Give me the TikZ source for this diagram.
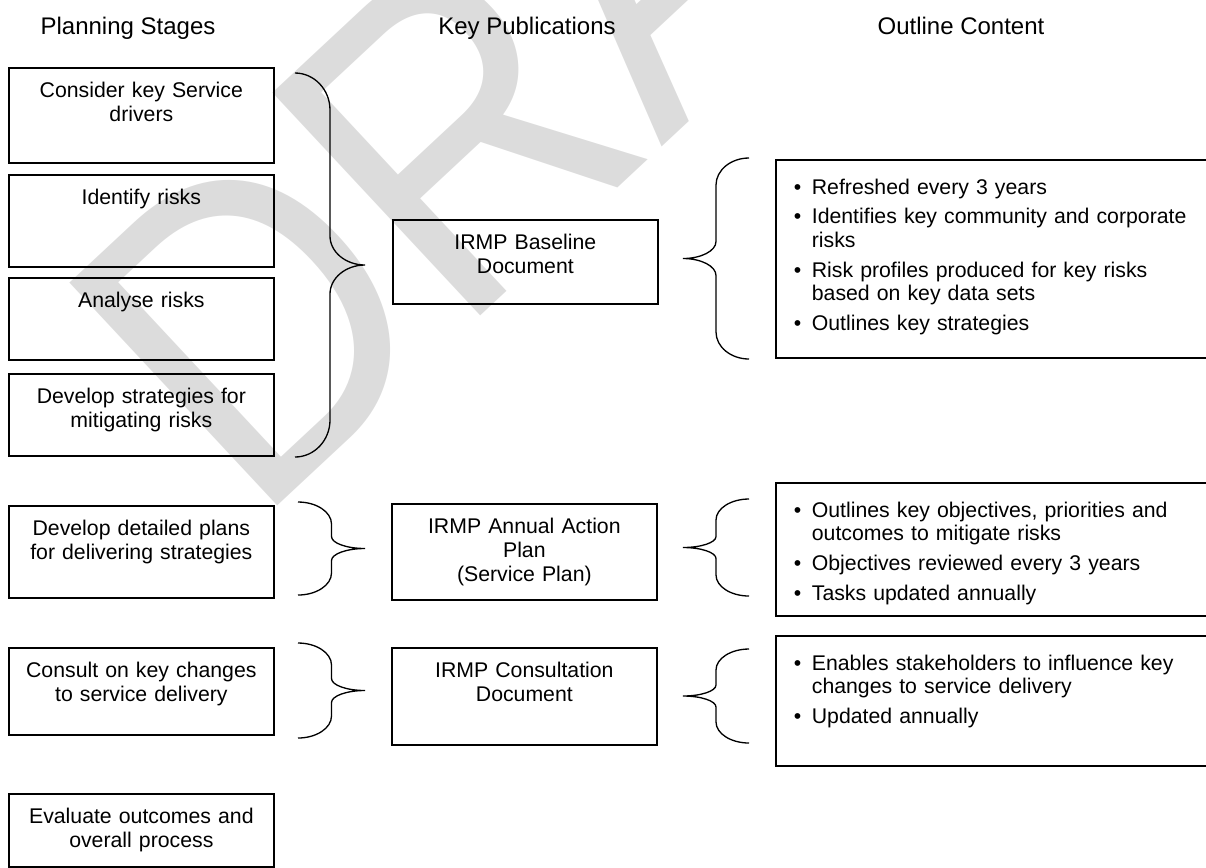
\documentclass[tikz,border=0pt]{standalone}
\usepackage{fontspec}
\setmainfont{Liberation Sans}
\usepackage{tikz}
\usetikzlibrary{positioning}
\definecolor{wmGray}{HTML}{DCDCDC}

\newlength{\bulind}\setlength{\bulind}{10.24pt}
\newcommand{\itm}[1]{\hangindent=\bulind\hangafter=1\noindent\makebox[\bulind][l]{\textbullet}#1\par}
% curly brace: x of ends, top y, bottom y, amplitude (signed), end curve, mid curve
\newcommand{\curlyb}[6]{%
  \pgfmathsetmacro{\hw}{#4/2}%
  \pgfmathsetmacro{\ym}{(#2+#3)/2}%
  \draw[bracel] (#1,#2) .. controls (#1+0.55*\hw,#2) and (#1+\hw,#2+0.45*#5) .. (#1+\hw,#2+#5)
    -- (#1+\hw,\ym-#6) .. controls (#1+\hw,\ym-0.45*#6) and (#1+#4-0.55*\hw,\ym) .. (#1+#4,\ym)
    .. controls (#1+#4-0.55*\hw,\ym) and (#1+\hw,\ym+0.45*#6) .. (#1+\hw,\ym+#6)
    -- (#1+\hw,#3-#5) .. controls (#1+\hw,#3-0.45*#5) and (#1+0.55*\hw,#3) .. (#1,#3);}

\begin{document}
\begin{tikzpicture}[x=0.02cm,y=-0.02cm,
  font=\fontsize{12.1pt}{13.5pt}\selectfont,
  head/.style={font=\fontsize{13.66pt}{15pt}\selectfont,anchor=base,inner sep=0pt},
  stage/.style={draw,line width=1pt,anchor=north west,text width=142.8pt,inner xsep=4pt,
    inner ysep=0pt,align=center,text height=17.1pt,text depth=#1},
  outl/.style={draw,line width=1pt,anchor=north west,text width=225.9pt,inner xsep=10.24pt,
    inner ysep=0pt,align=left,text height=19.5pt,text depth=#1},
  bracel/.style={line width=0.75pt},
  wmark/.style={font=\fontsize{219.6pt}{220pt}\selectfont,text=wmGray,transform shape,
    rotate=43,yscale=1.148,anchor=base west,inner sep=0pt}]
\useasboundingbox (0,0) rectangle (1206,867);
% watermark
\node[wmark] (draft) at (254,528) {DRAFT};
% --- column heads ---
\node[head] (hplan) at (128,34) {Planning Stages};
\node[head] (hpub) at (527,34) {Key Publications};
\node[head] (hout) at (961,34) {Outline Content};
% --- planning stages ---
\node[stage=36.96pt] (cons) at (8,67) {Consider key Service\\drivers};
\node[stage=35.25pt] (ident) at (8,174) {Identify risks};
\node[stage=29.56pt] (anal) at (8,277) {Analyse risks};
\node[stage=29.56pt] (strat) at (8,373) {Develop strategies for\\mitigating risks};
\node[stage=35.25pt] (plans) at (8,505) {Develop detailed plans\\for delivering strategies};
\node[stage=32.4pt] (consult) at (8,647) {Consult on key changes\\to service delivery};
\node[stage=24.44pt] (evalu) at (8,793) {Evaluate outcomes and\\overall process};
% --- key publications ---
\node[stage=30.7pt] (basedoc) at (392,219) {IRMP Baseline\\Document};
\node[stage=37.52pt] (annual) at (391,503) {IRMP Annual Action\\Plan\\(Service Plan)};
\node[stage=38.09pt] (consdoc) at (391,647) {IRMP Consultation\\Document};
% --- outline content ---
\node[outl=93.16pt] (outa) at (775,159) {%
  \itm{Refreshed every 3 years}\vspace{3.4pt}%
  \itm{Identifies key community and corporate\newline risks}\vspace{3.4pt}%
  \itm{Risk profiles produced for key risks\newline based on key data sets}\vspace{3.4pt}%
  \itm{Outlines key strategies}};
\node[outl=56.18pt] (outb) at (775,482) {%
  \itm{Outlines key objectives, priorities and\newline outcomes to mitigate risks}\vspace{3.4pt}%
  \itm{Objectives reviewed every 3 years}\vspace{3.4pt}%
  \itm{Tasks updated annually}};
\node[outl=54.47pt] (outc) at (775,635) {%
  \itm{Enables stakeholders to influence key\newline changes to service delivery}\vspace{3.4pt}%
  \itm{Updated annually}};
% --- braces ---
\curlyb{295}{73}{457}{70}{37}{29}
\curlyb{749}{158}{359}{-66}{27}{17}
\curlyb{298}{502}{595}{67}{22}{12}
\curlyb{749}{499}{596}{-66}{21}{11}
\curlyb{298}{643}{738}{67}{22}{12}
\curlyb{749}{649}{743}{-66}{21}{11}
\end{tikzpicture}
\end{document}
